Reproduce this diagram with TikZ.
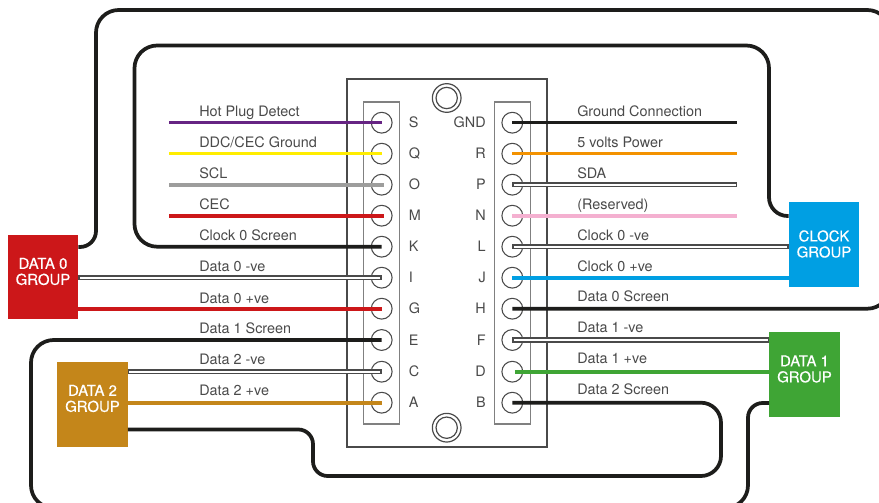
\documentclass[tikz,border=0pt]{standalone}
\usepackage{fontspec}
\setmainfont{TeX Gyre Heros}
\newfontfamily\grpfont[FakeBold=0.35]{TeX Gyre Heros}
\definecolor{txt}{HTML}{4A4A4A}
\definecolor{wblack}{HTML}{1D1D1B}
\definecolor{wred}{HTML}{CC1719}
\definecolor{wblue}{HTML}{009FE3}
\definecolor{wgreen}{HTML}{3FA535}
\definecolor{wgold}{HTML}{C4861A}
\definecolor{wpurple}{HTML}{662483}
\definecolor{wyellow}{HTML}{FFED00}
\definecolor{wgrey}{HTML}{9D9D9C}
\definecolor{worange}{HTML}{F39200}
\definecolor{wpink}{HTML}{F4B0D0}
\tikzset{
  x=0.75pt,y=-0.75pt,
  wire/.style={line width=2.7pt},
  loopwire/.style={line width=2.8pt,draw=wblack,rounded corners=17pt},
  dblwire/.style={line width=4pt,draw=txt,postaction={draw=white,line width=1.7pt,shorten >=1.1pt,shorten <=1.1pt}},
  pinhole/.style={circle,draw=txt,line width=0.8pt,minimum size=15.6pt,inner sep=0pt},
  screwo/.style={circle,draw=txt,line width=0.9pt,minimum size=21.5pt,inner sep=0pt},
  screwi/.style={circle,draw=txt,line width=0.9pt,minimum size=16pt,inner sep=0pt},
  frameline/.style={draw=txt,line width=0.8pt,inner sep=0pt},
  wlabel/.style={anchor=base west,text=txt,font=\fontsize{10.8}{12}\selectfont,inner sep=0pt},
  pinl/.style={anchor=base west,text=txt,font=\fontsize{10.8}{12}\selectfont,inner sep=0pt},
  pinr/.style={anchor=base east,text=txt,font=\fontsize{10.8}{12}\selectfont,inner sep=0pt},
  groupbox/.style={minimum width=52.8pt,minimum height=63.6pt,inner sep=0pt},
  grouptext/.style={text=white,align=center,font=\grpfont\fontsize{11.2}{12}\selectfont,inner sep=0pt},
}
\begin{document}
\begin{tikzpicture}
\clip (0,0) rectangle (879,503);
\fill[white] (0,0) rectangle (879,503);
% frames
\node[frameline,rectangle,minimum width=150pt,minimum height=276pt] (body) at (447,263) {};
\node[frameline,rectangle,minimum width=26.8pt,minimum height=241.5pt,draw=gray] (stripl) at (381.6,263) {};
\node[frameline,rectangle,minimum width=26.8pt,minimum height=241.5pt,draw=gray] (stripr) at (512.2,263) {};
\node[screwo] (topo) at (446.7,98) {};
\node[screwi] (topi) at (446.7,98) {};
\node[screwo] (boto) at (446.7,427.7) {};
\node[screwi] (boti) at (446.7,427.7) {};
% pins
\foreach \n/\y in {s/122.7,q/153.7,o/184.7,m/215.7,k/246.7,i/277.7,g/308.7,e/340,c/371.7,a/402.7}
  \node[pinhole] (\n) at (381.7,\y) {};
\foreach \n/\y in {gnd/122.7,r/153.7,p/184.7,n/215.7,l/246.7,j/277.7,h/308.7,f/340,d/371.7,b/402.7}
  \node[pinhole] (\n) at (512.3,\y) {};
% group boxes
\node[groupbox,fill=wred] (d0) at (43,277) {};
\node[groupbox,fill=wblue] (clk) at (824,244.5) {};
\node[groupbox,fill=wgreen] (d1) at (804.5,374.5) {};
\node[groupbox,fill=wgold] (d2) at (92.5,404.5) {};
% free ends
\coordinate (hpd) at (169,122.7);
\coordinate (ddc) at (169,153.7);
\coordinate (scl) at (169,184.7);
\coordinate (cec) at (169,215.7);
\coordinate (gc) at (737,122.7);
\coordinate (vcc) at (737,153.7);
\coordinate (sda) at (737,184.7);
\coordinate (res) at (737,215.7);
% plain wires
\draw[wire,draw=wpurple] (hpd) -- (s.center);
\draw[wire,draw=wyellow] (ddc) -- (q.center);
\draw[wire,draw=wgrey] (scl) -- ([xshift=2]o.center);
\draw[wire,draw=wred] (cec) -- ([xshift=2]m.center);
\draw[wire,draw=wblack] (gnd.center) -- (gc);
\draw[wire,draw=worange] (r.center) -- (vcc);
\draw[wire,draw=wpink] (n.center) -- (res);
\draw[dblwire] (p.center) -- (sda);
\draw[dblwire] (d0.east |- i.center) -- (i.center);
\draw[wire,draw=wred] (d0.east |- g.center) -- (g.center);
\draw[dblwire] (d2.east |- c.center) -- (c.center);
\draw[wire,draw=wgold] (d2.east |- a.center) -- (a.center);
\draw[dblwire] (l.center) -- (clk.west |- l.center);
\draw[wire,draw=wblue] (j.center) -- (clk.west |- j.center);
\draw[dblwire] (f.center) -- (d1.west |- f.center);
\draw[wire,draw=wgreen] ([xshift=2]d.center) -- (d1.west |- d.center);
% screen loops
\draw[loopwire] (k.center) -- (134.5,246.7) -- (134.5,45.5) -- (769,45.5) [rounded corners=14pt] -- (769,216) -- (clk.west |- 0,216);
\draw[loopwire] (d0.east |- 0,247) [rounded corners=12pt] -- (96,247) [rounded corners=17pt] -- (96,10) -- (890,10) -- (890,308.7) -- (h.center);
\draw[loopwire] (e.center) -- (31,340) -- (31,508) -- (748,508) [rounded corners=11pt] -- (748,403) -- (d1.west |- 0,403);
\draw[loopwire] (d2.east |- 0,429.5) [rounded corners=11pt] -- (313,429.5) -- (313,476) [rounded corners=15pt] -- (721,476) -- (721,402.7) -- (b.center);
% wire labels left
\node[wlabel] (lhpd) at (199,116.5) {Hot Plug Detect};
\node[wlabel] (lddc) at (199,147.5) {DDC/CEC Ground};
\node[wlabel] (lscl) at (199,178.5) {SCL};
\node[wlabel] (lcec) at (199,209.5) {CEC};
\node[wlabel] (lk) at (199,240.5) {Clock 0 Screen};
\node[wlabel] (li) at (199,271.5) {Data 0 -ve};
\node[wlabel] (lg) at (199,303) {Data 0 +ve};
\node[wlabel] (le) at (199,333.5) {Data 1 Screen};
\node[wlabel] (lc) at (199,364.5) {Data 2 -ve};
\node[wlabel] (la) at (199,395.5) {Data 2 +ve};
% wire labels right
\node[wlabel] (lgnd) at (577,116.5) {Ground Connection};
\node[wlabel] (lr) at (577,147.5) {5 volts Power};
\node[wlabel] (lp) at (577,178.5) {SDA};
\node[wlabel] (ln) at (577,209.5) {(Reserved)};
\node[wlabel] (ll) at (577,240.5) {Clock 0 -ve};
\node[wlabel] (lj) at (577,271) {Clock 0 +ve};
\node[wlabel] (lh) at (577,301.5) {Data 0 Screen};
\node[wlabel] (lf) at (577,332.5) {Data 1 -ve};
\node[wlabel] (ld) at (577,363.5) {Data 1 +ve};
\node[wlabel] (lb) at (577,394.5) {Data 2 Screen};
% pin letters
\foreach \n/\t/\y in {ps/S/127.7,pq/Q/158.7,po/O/189.7,pm/M/220.7,pk/K/251.7,pi/I/282.7,pg/G/313.7,pe/E/345.5,pc/C/376.7,pa/A/407.7}
  \node[pinl] (\n) at (408.5,\y) {\t};
\foreach \n/\t/\y in {pgnd/GND/127.7,pr/R/158.7,pp/P/189.7,pn/N/220.7,pl/L/251.7,pj/J/282.7,ph/H/313.7,pf/F/345.5,pd/D/376.7,pb/B/407.7}
  \node[pinr] (\n) at (486,\y) {\t};
% group labels
\node[grouptext] (td0) at (43,271.5) {DATA 0\\GROUP};
\node[grouptext] (tclk) at (824,244) {CLOCK\\GROUP};
\node[grouptext] (td1) at (804.5,369) {DATA 1\\GROUP};
\node[grouptext] (td2) at (92.5,398.5) {DATA 2\\GROUP};
\end{tikzpicture}
\end{document}
